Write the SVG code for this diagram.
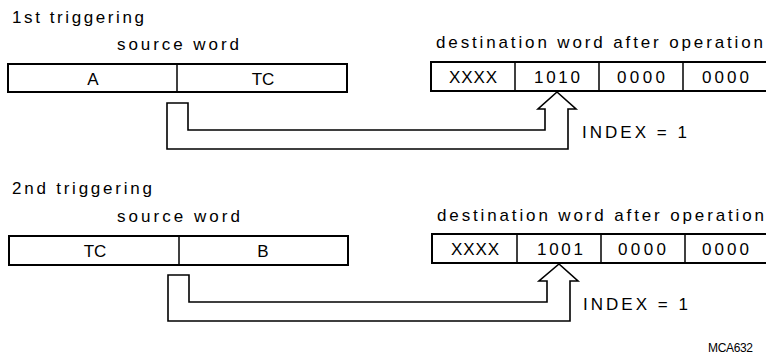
<svg xmlns="http://www.w3.org/2000/svg" width="766" height="358" viewBox="0 0 766 358">
<style>
text{font-family:"Liberation Sans",Arial,sans-serif;fill:#000;font-size:17px}
.c{text-anchor:middle}
.sm{font-size:12px}
.box{fill:#fff;stroke:#000;stroke-width:2}
.div{stroke:#000;stroke-width:1.5;fill:none}
.arr{fill:#fff;stroke:#000;stroke-width:1.6;stroke-linejoin:miter}
</style>
<rect width="766" height="358" fill="#fff"/>
<g id="panel1">
<text x="12" y="23" textLength="132" lengthAdjust="spacing">1st triggering</text>
<text x="117" y="50" textLength="122" lengthAdjust="spacing">source word</text>
<text x="436" y="48" textLength="327" lengthAdjust="spacing">destination word after operation</text>
<g id="source1">
<rect class="box" x="8" y="64" width="339" height="28"/>
<line class="div" x1="177" y1="64" x2="177" y2="92"/>
<text class="c" x="93" y="85">A</text>
<text class="c" x="263" y="85">TC</text>
</g>
<g id="dest1">
<rect class="box" x="431" y="62" width="340" height="29"/>
<line class="div" x1="515" y1="62" x2="515" y2="91"/>
<line class="div" x1="599" y1="62" x2="599" y2="91"/>
<line class="div" x1="683" y1="62" x2="683" y2="91"/>
<text x="449" y="83" textLength="48" lengthAdjust="spacing">XXXX</text>
<text x="534" y="83" textLength="46" lengthAdjust="spacing">1010</text>
<text x="617" y="83" textLength="48" lengthAdjust="spacing">0000</text>
<text x="702" y="83" textLength="47" lengthAdjust="spacing">0000</text>
</g>
<text x="582" y="138" textLength="105" lengthAdjust="spacing">INDEX = 1</text>
</g>
<g id="panel2">
<text x="12" y="194" textLength="140" lengthAdjust="spacing">2nd triggering</text>
<text x="117" y="222" textLength="123" lengthAdjust="spacing">source word</text>
<text x="437" y="221" textLength="327" lengthAdjust="spacing">destination word after operation</text>
<g id="source2">
<rect class="box" x="9" y="236" width="339" height="29"/>
<line class="div" x1="179" y1="236" x2="179" y2="265"/>
<text class="c" x="95" y="257">TC</text>
<text class="c" x="263" y="257">B</text>
</g>
<g id="dest2">
<rect class="box" x="432" y="234" width="340" height="29"/>
<line class="div" x1="517" y1="234" x2="517" y2="263"/>
<line class="div" x1="601" y1="234" x2="601" y2="263"/>
<line class="div" x1="685" y1="234" x2="685" y2="263"/>
<text x="451" y="255" textLength="48" lengthAdjust="spacing">XXXX</text>
<text x="537" y="255" textLength="46" lengthAdjust="spacing">1001</text>
<text x="618" y="255" textLength="48" lengthAdjust="spacing">0000</text>
<text x="702" y="255" textLength="47" lengthAdjust="spacing">0000</text>
</g>
<text x="583" y="310" textLength="105" lengthAdjust="spacing">INDEX = 1</text>
</g>
<g id="connectors">
<path class="arr" d="M167,103 H188 V130 H545 V109 H538 L557,92 L576,109 H568 V149 H167 Z"/>
<path class="arr" d="M168,275 H189 V302 H547 V281 H539 L559,264 L578,281 H570 V321 H168 Z"/>
</g>
<text class="sm" x="708" y="352" textLength="45" lengthAdjust="spacing">MCA632</text>
</svg>
